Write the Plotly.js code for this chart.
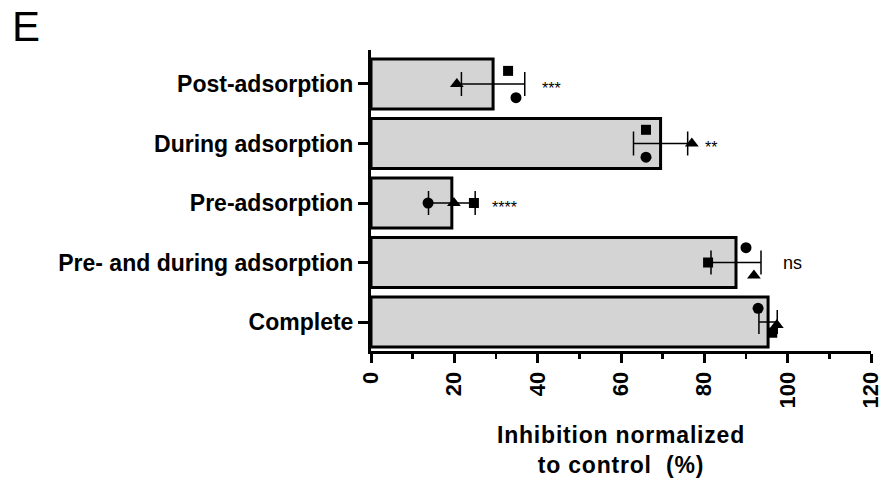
<!DOCTYPE html>
<html>
<head>
<meta charset="utf-8">
<script src="https://cdn.plot.ly/plotly-3.0.1.min.js"></script>
<style>
html,body{margin:0;padding:0;background:#fff;}
#chart{width:881px;height:479px;}
.xtitle{letter-spacing:0.8px;}
</style>
</head>
<body>
<div id="chart"></div>
<script>
// Data (bottom to top)
const categories = ['Complete', 'Pre- and during adsorption', 'Pre-adsorption', 'During adsorption', 'Post-adsorption'];
const means = [95.3, 87.6, 19.4, 69.5, 29.3];
const sds = [2.2, 6.0, 5.6, 6.5, 7.6];
const circleVals = [92.9, 90.0, 13.7, 66.0, 34.8];
const squareVals = [96.3, 80.9, 24.7, 66.0, 32.9];
const triangleVals = [97.4, 91.9, 19.9, 77.0, 20.6];
const sigLabels = ['', 'ns', '****', '**', '***'];
const xTickVals = [0, 20, 40, 60, 80, 100, 120];

// vertical jitter of replicate points (layout only)
const jitterCircle = [0.23, 0.25, 0, -0.23, -0.23];
const jitterSquare = [-0.18, 0, 0, 0.23, 0.22];
const jitterTriangle = [-0.05, -0.22, 0, 0, 0];

const idx = categories.map((c, i) => i);
const font = 'Liberation Sans, Arial, sans-serif';

const traces = [
  {
    type: 'bar', orientation: 'h',
    x: means, y: idx, width: 0.84,
    marker: {color: '#d4d4d4', line: {color: '#000', width: 3}},
    error_x: {type: 'data', array: sds, visible: true, color: '#000', thickness: 1.5, width: 12},
    hoverinfo: 'x+y', showlegend: false
  },
  {
    type: 'scatter', mode: 'markers',
    x: circleVals, y: idx.map(i => i + jitterCircle[i]),
    marker: {symbol: 'circle', size: 11, color: '#000'}, showlegend: false
  },
  {
    type: 'scatter', mode: 'markers',
    x: squareVals, y: idx.map(i => i + jitterSquare[i]),
    marker: {symbol: 'square', size: 10, color: '#000'}, showlegend: false
  },
  {
    type: 'scatter', mode: 'markers',
    x: triangleVals, y: idx.map(i => i + jitterTriangle[i]),
    marker: {symbol: 'triangle-up', size: 12, color: '#000'}, showlegend: false
  }
];

const annotations = sigLabels.map((s, i) => ({
  x: means[i] + sds[i] + (s === 'ns' ? 4.7 : 3.6), y: i,
  xref: 'x', yref: 'y', text: s, showarrow: false,
  xanchor: 'left', yanchor: s === 'ns' ? 'middle' : 'top',
  yshift: s === 'ns' ? 0 : 6,
  font: {family: font, size: s === 'ns' ? 18 : 16, color: '#000'}
})).filter(a => a.text !== '');

const layout = {
  width: 881, height: 479,
  margin: {l: 371, r: 10, t: 50, b: 128},
  paper_bgcolor: '#fff', plot_bgcolor: '#fff',
  title: {
    text: 'E', x: 12 / 881, xanchor: 'left', xref: 'container',
    y: 1 - 12 / 479, yanchor: 'top', yref: 'container',
    font: {family: font, size: 42, color: '#000'}
  },
  xaxis: {
    range: [0, 120], tickvals: xTickVals, tickangle: -90,
    ticklabeloverflow: 'allow',
    ticks: 'outside', ticklen: 9, tickwidth: 3, tickcolor: '#000',
    minor: {dtick: 10, ticks: 'outside', ticklen: 5, tickwidth: 2.5, tickcolor: '#000', showgrid: false},
    showline: true, linewidth: 3, linecolor: '#000',
    showgrid: false, zeroline: false,
    tickfont: {family: font, size: 22, color: '#000', weight: 'bold'},
    title: {
      text: 'Inhibition normalized<br>to control  (%)',
      standoff: 20,
      font: {family: font, size: 23, color: '#000', weight: 'bold'}
    },
    automargin: false
  },
  yaxis: {
    range: [-0.487, 4.571], tickvals: idx, ticktext: categories,
    ticks: 'outside', ticklen: 10, tickwidth: 3, tickcolor: '#000',
    showline: true, linewidth: 3, linecolor: '#000',
    showgrid: false, zeroline: false,
    tickfont: {family: font, size: 23, color: '#000', weight: 'bold'},
    automargin: false
  },
  annotations: annotations,
  bargap: 0.16
};

Plotly.newPlot('chart', traces, layout, {displayModeBar: false, staticPlot: true});
</script>
</body>
</html>
